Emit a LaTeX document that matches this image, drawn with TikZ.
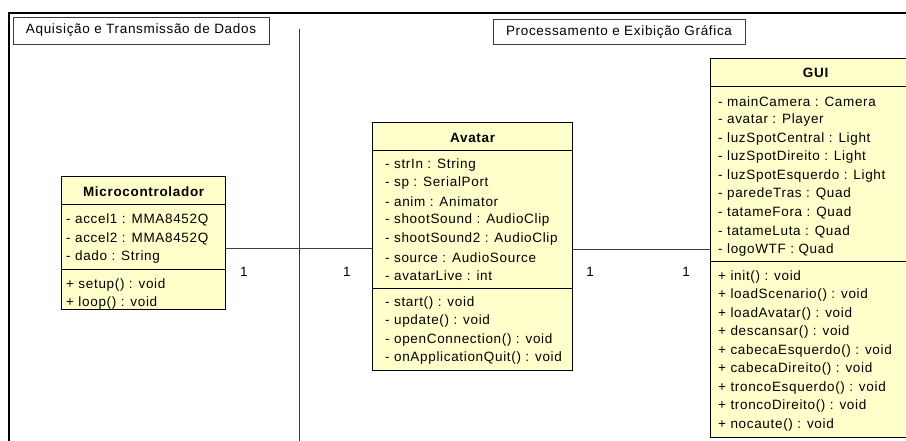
\documentclass[tikz,border=0pt]{standalone}
\usepackage{fontspec}
\setmainfont{Liberation Sans}[LetterSpace=5]
\definecolor{classfill}{HTML}{FFFFCC}
\definecolor{framegray}{HTML}{3C3C3C}
\newcommand{\diagfont}{\fontsize{13.5}{16}\selectfont}
\tikzset{
  classbox/.style={draw, line width=1.3pt, fill=classfill, anchor=north west, inner sep=0pt},
  classsep/.style={line width=1pt},
  classname/.style={font=\diagfont\bfseries, inner sep=0pt},
  member/.style={anchor=west, inner sep=0pt},
  framebox/.style={draw=framegray, line width=0.8pt, minimum height=27, inner sep=0pt},
  assoc/.style={line width=0.9pt, draw=framegray},
  mult/.style={inner sep=0pt}
}

\begin{document}
\begin{tikzpicture}[x=1pt, y=-1pt, font=\diagfont]
	\clip (0,0) rectangle (906,441);
	% frame and partitions
	\draw[line width=2.2pt] (9,445) -- (9,13) -- (912,13);
	\node[framebox, minimum width=256] (acq) at (141,30.5) {Aquisição e Transmissão de Dados};
	\node[framebox, minimum width=252, minimum height=25] (proc) at (619,31.5) {Processamento e Exibição Gráfica};
	\coordinate (splittop) at (299,29);
	\coordinate (splitbot) at (299,445);
	\draw[line width=1pt, draw=framegray] (splittop) -- (splitbot);
	% Microcontrolador
	\node[classbox, minimum width=164, minimum height=133] (micro) at (61,176) {};
	\node[classname] (microname) at ([yshift=-16pt]micro.north) {Microcontrolador};
	\draw[classsep] ([yshift=-29pt]micro.north west) -- ([yshift=-29pt]micro.north east);
	\draw[classsep] ([yshift=-93pt]micro.north west) -- ([yshift=-93pt]micro.north east);
	\foreach \m [count=\i] in {- accel1 : MMA8452Q, - accel2 : MMA8452Q, - dado : String}
	{
		\node[member] (microattr\i) at ([xshift=5pt, yshift={-25.5pt-18.5pt*\i}]micro.north west) {\m};
	}
	\foreach \m [count=\i] in {+ setup() : void, + loop() : void}
	{
		\node[member] (microop\i) at ([xshift=5pt, yshift={-90.5pt-18.5pt*\i}]micro.north west) {\m};
	}
	% Avatar
	\node[classbox, minimum width=200, minimum height=248] (avatar) at (372,122) {};
	\node[classname] (avatarname) at ([yshift=-16pt]avatar.north) {Avatar};
	\draw[classsep] ([yshift=-29pt]avatar.north west) -- ([yshift=-29pt]avatar.north east);
	\draw[classsep] ([yshift=-166pt]avatar.north west) -- ([yshift=-166pt]avatar.north east);
	\foreach \m [count=\i] in {- strIn : String, - sp : SerialPort, - anim : Animator, - shootSound : AudioClip, - shootSound2 : AudioClip, - source : AudioSource, - avatarLive : int}
	{
		\node[member] (avatarattr\i) at ([xshift=13pt, yshift={-24.5pt-18.5pt*\i}]avatar.north west) {\m};
	}
	\foreach \m [count=\i] in {- start() : void, - update() : void, - openConnection() : void, - onApplicationQuit() : void}
	{
		\node[member] (avatarop\i) at ([xshift=13pt, yshift={-162.5pt-18.5pt*\i}]avatar.north west) {\m};
	}
	% GUI
	\node[classbox, minimum width=210, minimum height=379] (gui) at (710,58) {};
	\node[classname] (guiname) at ([yshift=-15pt]gui.north) {GUI};
	\draw[classsep] ([yshift=-29pt]gui.north west) -- ([yshift=-29pt]gui.north east);
	\draw[classsep] ([yshift=-204pt]gui.north west) -- ([yshift=-204pt]gui.north east);
	\foreach \m [count=\i] in {- mainCamera : Camera, - avatar : Player, - luzSpotCentral : Light, - luzSpotDireito : Light, - luzSpotEsquerdo : Light, - paredeTras : Quad, - tatameFora : Quad, - tatameLuta : Quad, - logoWTF : Quad}
	{
		\node[member] (guiattr\i) at ([xshift=8pt, yshift={-25.5pt-18.5pt*\i}]gui.north west) {\m};
	}
	\foreach \m [count=\i] in {+ init() : void, + loadScenario() : void, + loadAvatar() : void, + descansar() : void, + cabecaEsquerdo() : void, + cabecaDireito() : void, + troncoEsquerdo() : void, + troncoDireito() : void, + nocaute() : void}
	{
		\node[member] (guiop\i) at ([xshift=8pt, yshift={-200.5pt-18.5pt*\i}]gui.north west) {\m};
	}
	% associations
	\coordinate (link1) at (0,248);
	\coordinate (link2) at (0,249);
	\draw[assoc] (link1 -| micro.east) -- (link1 -| avatar.west);
	\draw[assoc] (link2 -| avatar.east) -- (link2 -| gui.west);
	\node[mult] (mult1) at (244,272) {1};
	\node[mult] (mult2) at (347,272) {1};
	\node[mult] (mult3) at (590,272) {1};
	\node[mult] (mult4) at (686,272) {1};
\end{tikzpicture}
\end{document}
